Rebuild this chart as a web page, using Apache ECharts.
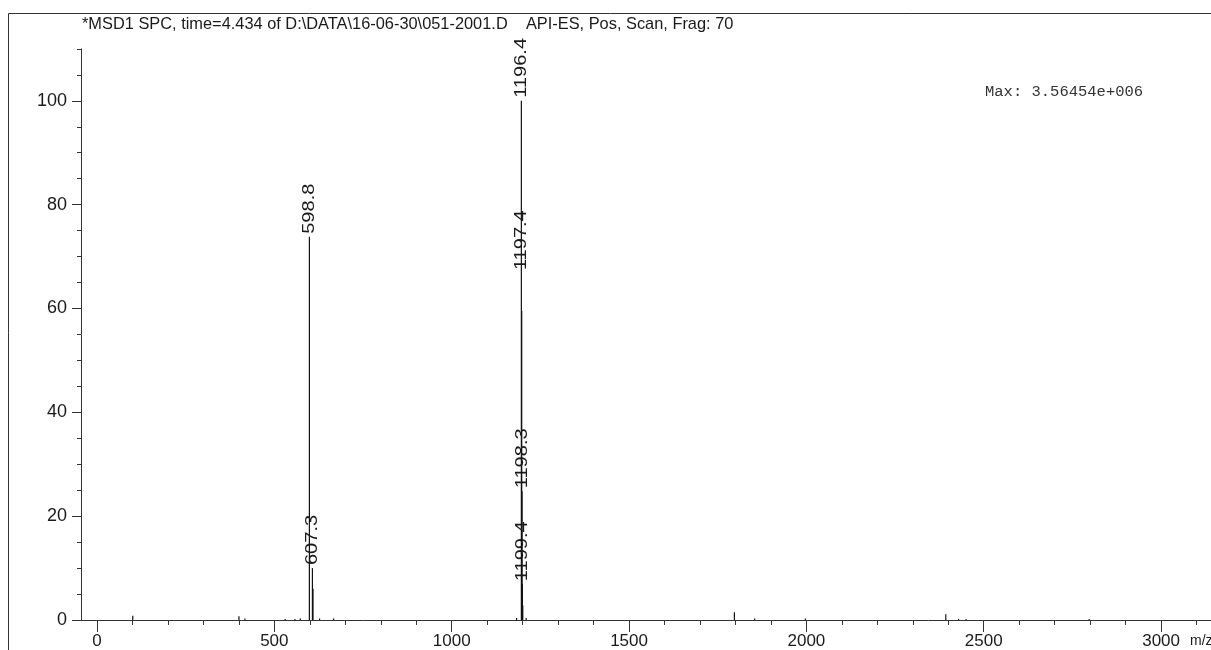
<!DOCTYPE html>
<html>
<head>
<meta charset="utf-8">
<script src="https://cdn.jsdelivr.net/npm/echarts@6/dist/echarts.min.js"></script>
<style>
  html, body { margin: 0; padding: 0; background: #fff; }
  #chart { width: 1211px; height: 650px; }
</style>
</head>
<body>
<div id="chart"></div>
<script>
// Mass spectrum: m/z positions and relative abundance (% of base peak)
const mzValues  = [100.9, 400.2, 417.0, 530.5, 558.0, 573.2, 598.8, 607.3, 609.0, 627.5, 667.0,
                   1183.0, 1196.4, 1197.4, 1198.3, 1199.4, 1200.4, 1210.0,
                   1797.0, 1854.0, 1997.0, 2393.0, 2429.0, 2450.0, 2797.0];
const abundance = [0.8, 0.7, 0.3, 0.2, 0.2, 0.3, 73.8, 10.0, 6.0, 0.3, 0.3,
                   0.4, 100, 59.5, 24.8, 6.9, 2.8, 0.4,
                   1.5, 0.3, 0.3, 1.1, 0.2, 0.2, 0.2];
const peakLabels = ['', '', '', '', '', '', '598.8', '607.3', '', '', '',
                    '', '1196.4', '1197.4', '1198.3', '1199.4', '', '',
                    '', '', '', '', '', '', ''];

const xMajorTicks = [0, 500, 1000, 1500, 2000, 2500, 3000];
const yMajorTicks = [0, 20, 40, 60, 80, 100];

const titleText = '*MSD1 SPC, time=4.434 of D:\\DATA\\16-06-30\\051-2001.D    API-ES, Pos, Scan, Frag: 70';
const maxText = 'Max: 3.56454e+006';
const xUnit = 'm/z';

// axis ranges
const X_MIN = -45.1, X_MAX = 3140.7;
const Y_MIN = 0, Y_MAX = 110;

// minor tick positions along m/z every 100
const xMinorTicks = [];
for (let v = 0; v <= 3100; v += 100) xMinorTicks.push(v);

// extra lift (px) for labels that sit above a crowded cluster
const labelLift = { '1197.4': 38 };

const AXIS_COLOR = '#333';
const TEXT_COLOR = '#1a1a1a';
const FONT = '"Liberation Sans", Arial, sans-serif';
const plainNumber = v => String(v);

const chart = echarts.init(document.getElementById('chart'), null, { renderer: 'canvas' });

const xBase = {
  type: 'value', min: X_MIN, max: X_MAX, position: 'bottom',
  splitLine: { show: false }
};
const yBase = {
  type: 'value', min: Y_MIN, max: Y_MAX, position: 'left',
  splitLine: { show: false }
};

chart.setOption({
  animation: false,
  grid: { left: 81, right: 0, top: 48.9, bottom: 30, containLabel: false },
  xAxis: [
    Object.assign({}, xBase, {
      axisLine: { show: true, onZero: false, lineStyle: { color: AXIS_COLOR, width: 1 } },
      axisTick: { show: true, length: 5, customValues: xMinorTicks, lineStyle: { color: AXIS_COLOR } },
      axisLabel: { show: false }
    }),
    Object.assign({}, xBase, {
      axisLine: { show: false, onZero: false },
      axisTick: { show: true, length: 12, customValues: xMajorTicks, lineStyle: { color: AXIS_COLOR } },
      axisLabel: { show: true, customValues: xMajorTicks, margin: 13, color: TEXT_COLOR,
                   fontFamily: FONT, fontSize: 17, formatter: plainNumber }
    })
  ],
  yAxis: [
    Object.assign({}, yBase, {
      interval: 5,
      axisLine: { show: true, onZero: false, lineStyle: { color: AXIS_COLOR, width: 1 } },
      axisTick: { show: true, length: 4, lineStyle: { color: AXIS_COLOR } },
      axisLabel: { show: false }
    }),
    Object.assign({}, yBase, {
      axisLine: { show: false, onZero: false },
      axisTick: { show: true, length: 9, customValues: yMajorTicks, lineStyle: { color: AXIS_COLOR } },
      axisLabel: { show: true, customValues: yMajorTicks, margin: 14, color: TEXT_COLOR,
                   fontFamily: FONT, fontSize: 18, formatter: plainNumber }
    })
  ],
  graphic: [
    { type: 'rect', silent: true, shape: { x: 8.5, y: 13.5, width: 1400, height: 800 },
      style: { fill: 'none', stroke: AXIS_COLOR, lineWidth: 1 } },
    { type: 'text', x: 82, y: 24, scaleX: 0.963, silent: true,
      style: { text: titleText, font: '17px ' + FONT, fill: TEXT_COLOR, verticalAlign: 'middle' } },
    { type: 'text', x: 985, y: 92, silent: true,
      style: { text: maxText, font: '15.5px "Liberation Mono", "Courier New", monospace', fill: '#333', verticalAlign: 'middle' } },
    { type: 'text', x: 1190, y: 641, silent: true,
      style: { text: xUnit, font: '14px ' + FONT, fill: TEXT_COLOR, verticalAlign: 'middle' } }
  ],
  series: [{
    type: 'custom',
    xAxisIndex: 0, yAxisIndex: 0,
    clip: false,
    data: mzValues.map((m, i) => [m, abundance[i]]),
    encode: { x: 0, y: 1 },
    renderItem: function (params, api) {
      const mz = api.value(0), v = api.value(1);
      const top = api.coord([mz, v]);
      const base = api.coord([mz, 0]);
      const children = [{
        type: 'line',
        shape: { x1: top[0], y1: top[1], x2: base[0], y2: base[1] },
        style: { stroke: '#111', lineWidth: 1.2 }
      }];
      const lbl = peakLabels[params.dataIndex];
      if (lbl) {
        const lift = labelLift[lbl] || 0;
        children.push({
          type: 'text',
          x: top[0], y: top[1] - 3 - lift,
          rotation: Math.PI / 2,
          scaleX: 1.18,
          style: { text: lbl, font: '17px ' + FONT, fill: TEXT_COLOR, align: 'left', verticalAlign: 'middle' }
        });
      }
      return { type: 'group', children: children };
    }
  }]
});
</script>
</body>
</html>
